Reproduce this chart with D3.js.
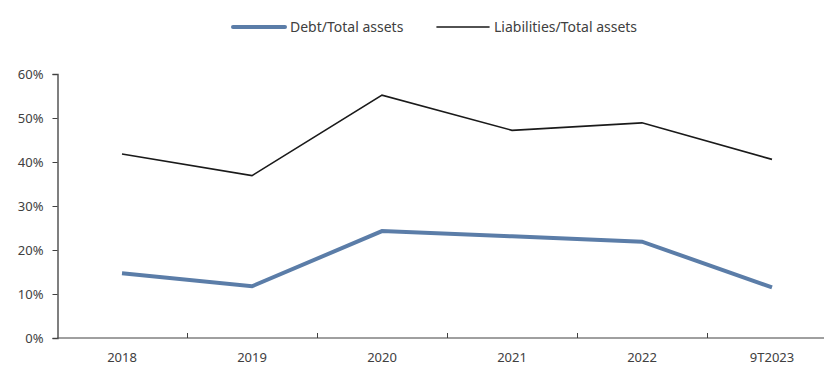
<!DOCTYPE html>
<html>
<head>
<meta charset="utf-8">
<script src="https://cdn.jsdelivr.net/npm/d3@7"></script>
<style>
  body { margin: 0; background: #fff; }
  svg text { font-family: "Noto Sans", sans-serif; fill: #404040; }
</style>
</head>
<body>
<div id="chart"></div>
<script>
const categories = ["2018", "2019", "2020", "2021", "2022", "9T2023"];
const debtRatio = [0.147, 0.1175, 0.243, 0.231, 0.219, 0.115];
const liabRatio = [0.418, 0.369, 0.552, 0.472, 0.489, 0.406];
const yTicks = [0, 0.1, 0.2, 0.3, 0.4, 0.5, 0.6];
const seriesNames = ["Debt/Total assets", "Liabilities/Total assets"];

const width = 824, height = 367;

const svg = d3.select("#chart")
  .append("svg")
    .attr("width", width)
    .attr("height", height);

// x: bands 130px wide starting at the y axis, last band runs past the edge
const x = d3.scaleBand()
    .domain(categories)
    .range([57, 837]);

const y = d3.scaleLinear()
    .domain([0, 0.6])
    .range([338, 74]);

// x axis line + ticks between categories
svg.append("line")
    .attr("x1", 57).attr("x2", width)
    .attr("y1", y(0)).attr("y2", y(0))
    .attr("stroke", "#404040").attr("stroke-width", 1);

svg.selectAll(".xtick")
  .data(categories.slice(1))
  .join("line")
    .attr("x1", d => Math.round(x(d)) + 0.5)
    .attr("x2", d => Math.round(x(d)) + 0.5)
    .attr("y1", y(0) - 5).attr("y2", y(0))
    .attr("stroke", "#404040");

svg.selectAll(".xlabel")
  .data(categories)
  .join("text")
    .attr("x", d => x(d) + x.bandwidth() / 2)
    .attr("y", 362)
    .attr("text-anchor", "middle")
    .style("font-size", "13px")
    .text(d => d);

// y axis
const yAxis = svg.append("g")
    .attr("transform", "translate(57.5,0)")
    .call(d3.axisLeft(y).tickValues(yTicks).tickFormat(d3.format(".0%")).tickSize(5).tickPadding(9));
yAxis.select(".domain").attr("stroke", "#555").attr("stroke-width", 1.5);
yAxis.selectAll(".tick line").attr("stroke", "#404040");
yAxis.selectAll(".tick text")
    .style("font-size", "13px")
    .style("font-family", "'Noto Sans', sans-serif")
    .attr("fill", "#404040");

const line = d3.line()
    .x((d, i) => x(categories[i]) + x.bandwidth() / 2)
    .y(d => y(d));

svg.append("path")
    .datum(liabRatio)
    .attr("d", line)
    .attr("fill", "none")
    .attr("stroke", "#1a1a1a")
    .attr("stroke-width", 1.6);

svg.append("path")
    .datum(debtRatio)
    .attr("d", line)
    .attr("fill", "none")
    .attr("stroke", "#5b7da8")
    .attr("stroke-width", 4);

// legend
const legend = [
  {name: seriesNames[0], color: "#5b7da8", w: 4, x: 233},
  {name: seriesNames[1], color: "#1a1a1a", w: 1.6, x: 437}
];
const lg = svg.selectAll(".legend")
  .data(legend)
  .join("g")
    .attr("transform", d => `translate(${d.x},27)`);
lg.append("line")
    .attr("x1", 0).attr("x2", 52)
    .attr("stroke", d => d.color)
    .attr("stroke-width", d => d.w)
    .attr("stroke-linecap", "round");
lg.append("text")
    .attr("x", 57)
    .attr("y", 5)
    .style("font-size", "14px")
    .text(d => d.name);
</script>
</body>
</html>
